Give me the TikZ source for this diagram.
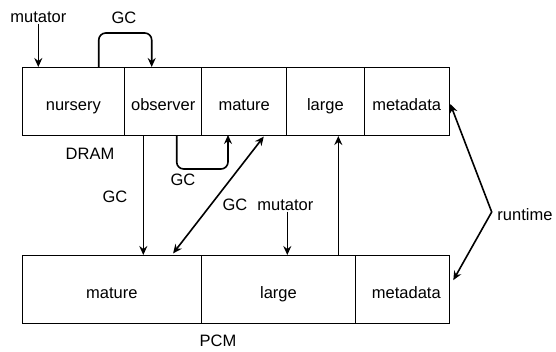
\documentclass[tikz,border=0pt]{standalone}
\usepackage{fontspec}
\setmainfont{Liberation Sans}
\usetikzlibrary{arrows.meta}
\begin{document}
\begin{tikzpicture}[x=1pt,y=-1pt,
  font=\fontsize{16.5}{20}\selectfont,
  cell/.style={draw, line width=1pt, minimum height=68pt, inner sep=0pt, outer sep=0pt, anchor=north west, text height=20pt, text depth=2pt},
  arr/.style={line width=1.6pt, -{Stealth[length=9pt,width=8pt,inset=3pt]}},
  darr/.style={line width=1.6pt, {Stealth[length=9pt,width=8pt,inset=3pt]}-{Stealth[length=9pt,width=8pt,inset=3pt]}},
  lbl/.style={inner sep=0pt}]
\useasboundingbox (0,0) rectangle (556,351);
% DRAM row
\node[cell, minimum width=102.7pt] (nursery) at (22,67) {nursery};
\node[cell, minimum width=77pt] (observer) at (124.7,67) {observer};
\node[cell, minimum width=85pt] (mature) at (201.7,67) {mature};
\node[cell, minimum width=77.3pt] (large) at (286.7,67) {large};
\node[cell, minimum width=85.3pt] (meta) at (364,67) {metadata};
% PCM row
\node[cell, minimum width=179.7pt, minimum height=68.3pt] (pmature) at (22,255) {mature};
\node[cell, minimum width=153.6pt, minimum height=68.3pt] (plarge) at (201.7,255) {large};
\node[cell, minimum width=94pt, minimum height=68.3pt, label={[xshift=4pt, text height=20pt, text depth=2pt, inner sep=0pt]center:metadata}] (pmeta) at (355.3,255) {};
% labels
\node[lbl] (mutA) at (38.3,17) {mutator};
\node[lbl] (gc1) at (124,18) {GC};
\node[lbl] (dram) at (90,154) {DRAM};
\node[lbl] (gc2) at (183,180) {GC};
\node[lbl] (gc3) at (115,197) {GC};
\node[lbl] (gc4) at (235,205) {GC};
\node[lbl] (mutB) at (285.3,205) {mutator};
\node[lbl] (rt) at (525,215) {runtime};
\node[lbl] (pcm) at (218,341) {PCM};
\coordinate (rb) at (491.7,212);
% connectors
\draw[arr] ([yshift=-1pt]mutA.south) -- (mutA.south |- nursery.north);
\draw[arr, rounded corners=7pt] ([xshift=25.4pt]nursery.north) -- ++(0,-34) -| ([xshift=-11.5pt]observer.north);
\draw[arr, rounded corners=7pt] ([xshift=13.5pt]observer.south) -- ++(0,34) -| ([xshift=-16.2pt]mature.south);
\draw[arr] ([xshift=-19.9pt]observer.south) -- ([xshift=-19.9pt]observer.south |- pmature.north);
\draw[darr, shorten <=2pt, shorten >=2pt] ([xshift=20.8pt]mature.south) -- ([xshift=60pt]pmature.north);
\draw[arr] ([xshift=2pt,yshift=-1pt]mutB.south) -- ([xshift=2pt]mutB.south |- plarge.north);
\draw[arr, shorten >=1pt] ([xshift=59.8pt]plarge.north) -- ([xshift=59.8pt]plarge.north |- large.south);
\draw[darr] ([xshift=1pt,yshift=-3pt]meta.east) -- (rb) -- ([xshift=4pt,yshift=9pt]pmeta.east);
\end{tikzpicture}
\end{document}
